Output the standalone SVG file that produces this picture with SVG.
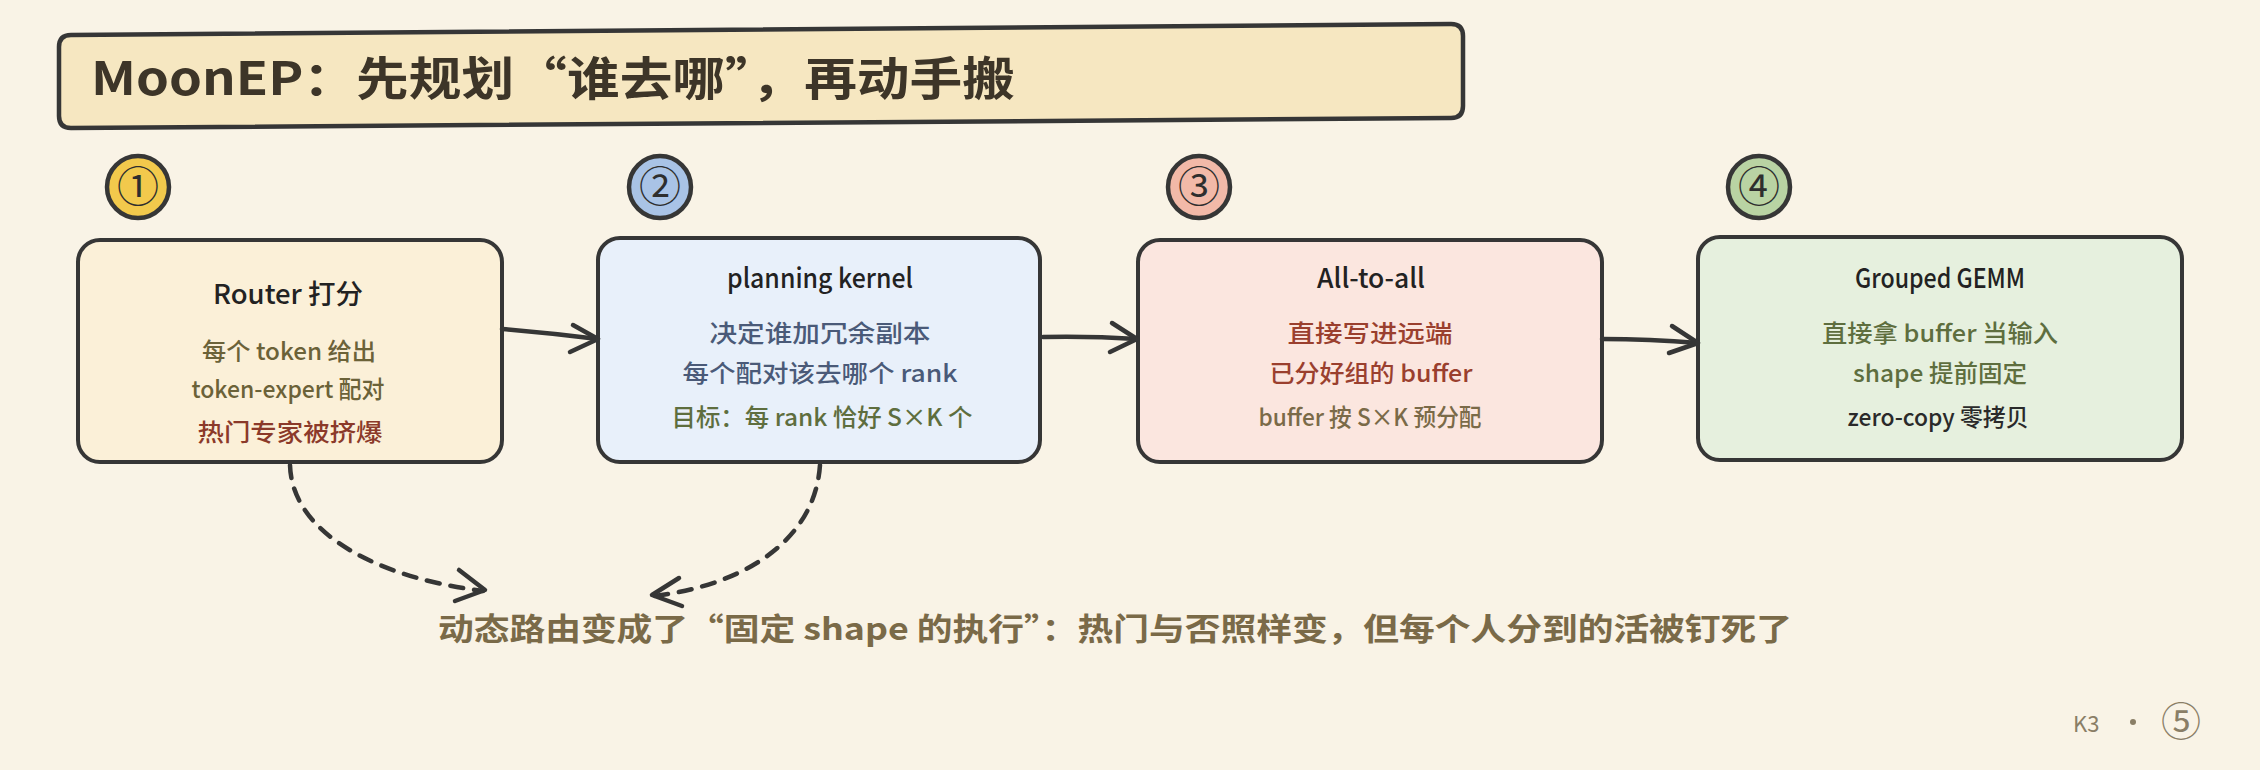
<svg xmlns="http://www.w3.org/2000/svg" width="2260" height="770" viewBox="0 0 2260 770">
<defs>
<style>
.bg{fill:#f9f3e6}
.box{stroke:#363636;stroke-width:4;stroke-linejoin:round}
.badge{stroke:#363636;stroke-width:4.5}
.num{font-family:"Noto Sans CJK SC","DejaVu Sans",sans-serif;font-size:42px;fill:#2e2e2e;text-anchor:middle}
.t{font-family:"Noto Sans CJK SC","Noto Sans",sans-serif;text-anchor:middle}
.hd{font-size:27px;font-weight:500;fill:#222}
.bd{font-size:24px;font-weight:500}
.conn{fill:none;stroke:#363636;stroke-width:4.5;stroke-linecap:round;stroke-linejoin:round}
.dash{stroke-dasharray:13 11}
</style>
</defs>
<rect class="bg" x="0" y="0" width="2260" height="770"/>

<g id="title">
<path d="M71,35 L1451,24 Q1463,24 1463,36 L1463,106 Q1463,118 1451,118 L71,128 Q59,128 59,116 L59,47 Q59,35 71,35 Z" fill="#f6e7c1" stroke="#363636" stroke-width="4.5"/>
<text x="91" y="95" font-family="Noto Sans CJK SC, sans-serif" font-size="46" font-weight="700" fill="#3d3528" textLength="924" lengthAdjust="spacingAndGlyphs">MoonEP：先规划“谁去哪”，再动手搬</text>
</g>

<g id="badge1"><circle class="badge" cx="138" cy="187" r="31" fill="#f2c94c"/><text class="num" x="138" y="202">①</text></g>
<g id="badge2"><circle class="badge" cx="660" cy="187" r="31" fill="#a9c3e6"/><text class="num" x="660" y="202">②</text></g>
<g id="badge3"><circle class="badge" cx="1199" cy="187" r="31" fill="#f2b9a8"/><text class="num" x="1199" y="202">③</text></g>
<g id="badge4"><circle class="badge" cx="1759" cy="187" r="31" fill="#b9d3a3"/><text class="num" x="1759" y="202">④</text></g>

<g id="node1">
<rect class="box" x="78" y="240" width="424" height="222" rx="22" fill="#fbf0d8"/>
<text class="t hd" x="288" y="304" textLength="150" lengthAdjust="spacingAndGlyphs">Router 打分</text>
<text class="t bd" x="289" y="360" fill="#6b6238" textLength="174" lengthAdjust="spacingAndGlyphs">每个 token 给出</text>
<text class="t bd" x="288" y="398" fill="#6b6238" textLength="193" lengthAdjust="spacingAndGlyphs">token-expert 配对</text>
<text class="t bd" x="290" y="441" fill="#8b3a2a" textLength="185" lengthAdjust="spacingAndGlyphs">热门专家被挤爆</text>
</g>

<g id="node2">
<rect class="box" x="598" y="238" width="442" height="224" rx="22" fill="#e8f0fa"/>
<text class="t hd" x="820" y="288" textLength="186" lengthAdjust="spacingAndGlyphs">planning kernel</text>
<text class="t bd" x="820" y="342" fill="#4a5a78" textLength="221" lengthAdjust="spacingAndGlyphs">决定谁加冗余副本</text>
<text class="t bd" x="820" y="382" fill="#4a5a78" textLength="275" lengthAdjust="spacingAndGlyphs">每个配对该去哪个 rank</text>
<text class="t bd" x="822" y="426" fill="#5e6e3e" textLength="301" lengthAdjust="spacingAndGlyphs">目标：每 rank 恰好 S×K 个</text>
</g>

<g id="node3">
<rect class="box" x="1138" y="240" width="464" height="222" rx="22" fill="#fbe6df"/>
<text class="t hd" x="1371" y="288" textLength="108" lengthAdjust="spacingAndGlyphs">All-to-all</text>
<text class="t bd" x="1370" y="342" fill="#9a3f2e" textLength="165" lengthAdjust="spacingAndGlyphs">直接写进远端</text>
<text class="t bd" x="1371" y="382" fill="#9a3f2e" textLength="203" lengthAdjust="spacingAndGlyphs">已分好组的 buffer</text>
<text class="t bd" x="1370" y="426" fill="#7a6a48" textLength="223" lengthAdjust="spacingAndGlyphs">buffer 按 S×K 预分配</text>
</g>

<g id="node4">
<rect class="box" x="1698" y="237" width="484" height="223" rx="22" fill="#e6f0de"/>
<text class="t hd" x="1940" y="288" textLength="170" lengthAdjust="spacingAndGlyphs">Grouped GEMM</text>
<text class="t bd" x="1940" y="342" fill="#5e6e3e" textLength="236" lengthAdjust="spacingAndGlyphs">直接拿 buffer 当输入</text>
<text class="t bd" x="1940" y="382" fill="#5e6e3e" textLength="174" lengthAdjust="spacingAndGlyphs">shape 提前固定</text>
<text class="t bd" x="1938" y="426" fill="#2a2a2a" textLength="181" lengthAdjust="spacingAndGlyphs">zero-copy 零拷贝</text>
</g>

<g id="connectors">
<path class="conn" d="M502,329 Q550,333 598,339"/>
<path class="conn" d="M573,325 L598,339 L570,352"/>
<path class="conn" d="M1043,337 Q1090,336 1137,339"/>
<path class="conn" d="M1112,323 L1137,339 L1110,352"/>
<path class="conn" d="M1602,339 Q1650,339 1698,343"/>
<path class="conn" d="M1672,326 L1698,343 L1669,353"/>
<path class="conn dash" d="M290,465 C292,535 380,578 483,591"/>
<path class="conn" d="M459,570 L485,590 L455,601"/>
<path class="conn dash" d="M820,465 C815,540 745,585 654,596"/>
<path class="conn" d="M679,578 L652,595 L682,606"/>
</g>

<g id="caption">
<text x="438" y="640" font-family="Noto Sans CJK SC, sans-serif" font-size="31" font-weight="700" fill="#7a6a48" textLength="1354" lengthAdjust="spacingAndGlyphs">动态路由变成了“固定 shape 的执行”：热门与否照样变，但每个人分到的活被钉死了</text>
</g>

<g id="footer" fill="#8a7e66" font-family="Noto Sans CJK SC, sans-serif">
<text x="2073" y="732" font-size="22">K3</text>
<circle cx="2133" cy="722" r="3"/>
<text x="2181" y="736" font-size="40" text-anchor="middle">⑤</text>
</g>
</svg>
